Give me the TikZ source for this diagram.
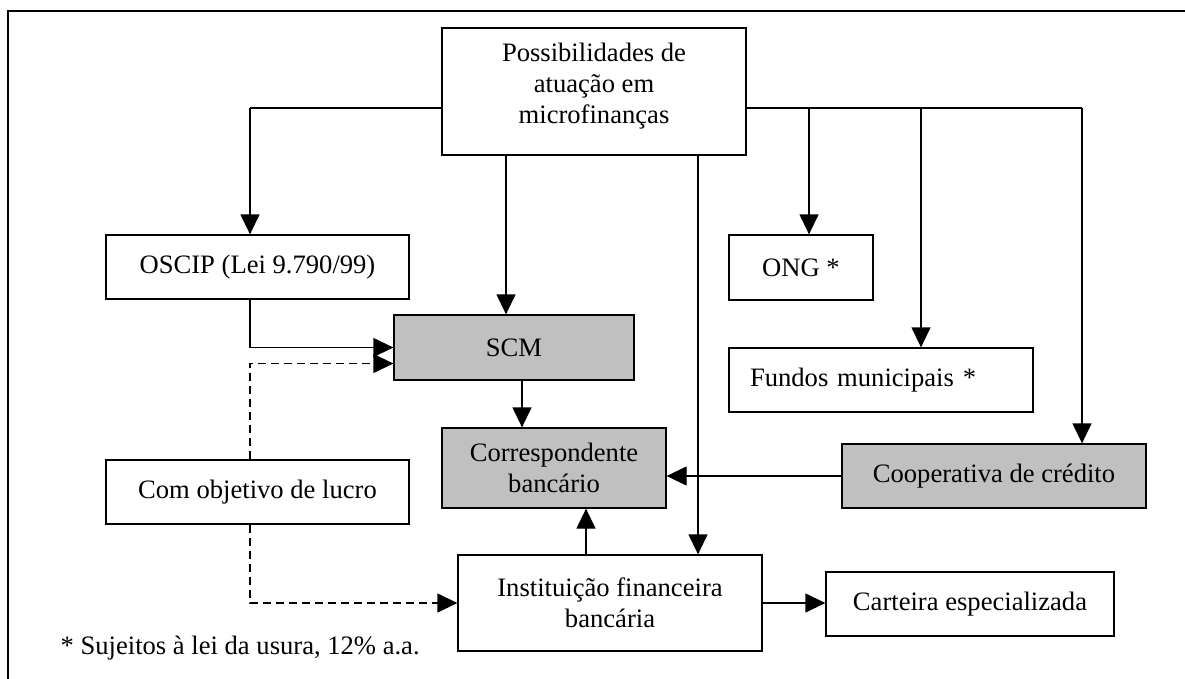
\documentclass[tikz,border=0pt]{standalone}
\usepackage{fontspec}
\setmainfont{Liberation Serif}
\usetikzlibrary{arrows.meta,calc}
\definecolor{cinza}{HTML}{C0C0C0}

\begin{document}
\begin{tikzpicture}[x=1pt, y=-1pt, line width=1.3pt,
  >={Triangle[length=20pt,width=19pt]},
  caixa/.style={draw, inner sep=0pt, align=center,
    font=\fontsize{26.6pt}{31pt}\selectfont},
  escura/.style={caixa, fill=cinza},
  tracejado/.style={dash pattern=on 8pt off 5pt}]
\useasboundingbox (0,0) rectangle (1185,679);

% moldura
\draw[line width=1.5pt] (8,679) |- (1185,11);

% caixas
\node[caixa, minimum width=304pt, minimum height=127pt, text depth=17pt] (poss) at (594,91.5)
  {Possibilidades de\\atuação em\\microfinanças};
\node[caixa, minimum width=303pt, minimum height=64pt] (oscip) at (257.5,267) {OSCIP (Lei 9.790/99)};
\node[caixa, minimum width=144pt, minimum height=65pt] (ong) at (801,267.5) {ONG *};
\node[escura, minimum width=240pt, minimum height=65pt] (scm) at (514,347.5) {SCM};
\node[caixa, minimum height=64pt, text width=262pt, inner xsep=21pt, align=left] (fundos) at (881,380)
  {Fundos municipais *};
\node[escura, minimum width=224pt, minimum height=80pt] (corr) at (554,468) {Correspondente\\bancário};
\node[escura, minimum width=304pt, minimum height=64pt] (coop) at (994,476) {Cooperativa de crédito};
\node[caixa, minimum width=303pt, minimum height=64pt] (com) at (257.5,492) {Com objetivo de lucro};
\node[caixa, minimum width=304pt, minimum height=96pt] (inst) at (610,603)
  {Instituição financeira\\bancária};
\node[caixa, minimum width=288pt, minimum height=64pt] (cart) at (970,604) {Carteira especializada};

\node[anchor=base west, inner sep=0pt, font=\fontsize{26.6pt}{31pt}\selectfont] (nota) at (60,654)
  {* Sujeitos à lei da usura, 12\% a.a.};

% pontos de ramificacao
\coordinate (jL) at (250,108);
\coordinate (jO) at (809,108);
\coordinate (jF) at (921,108);
\coordinate (jC) at (1082,108);
\coordinate (jS) at (506,0);
\coordinate (jI) at (698,0);

% ligacoes
\draw (poss.west |- jL) -- (jL);
\draw[->] (jL) -- (jL |- oscip.north);
\draw (poss.east |- jC) -- (jC);
\draw[->] (jO) -- (jO |- ong.north);
\draw[->] (jF) -- (jF |- fundos.north);
\draw[->] (jC) -- (jC |- coop.north);
\draw[->] (jS |- poss.south) -- (jS |- scm.north);
\draw[->] (jI |- poss.south) -- (jI |- inst.north);

\draw[->] (jL |- oscip.south) |- (scm.west);
\draw[tracejado,->] (jL |- com.north) |- ($(scm.west)+(0,16)$);
\draw[tracejado,->] (jL |- com.south) |- (inst.west);

\draw[->] ($(scm.south)+(8,0)$) coordinate (a) -- (a |- corr.north);
\draw[->] ($(inst.north)+(-24,0)$) coordinate (b) -- (b |- corr.south);
\draw[->] (coop.west) -- (coop.west -| corr.east);
\draw[->] (inst.east) -- (inst.east -| cart.west);

\end{tikzpicture}
\end{document}
